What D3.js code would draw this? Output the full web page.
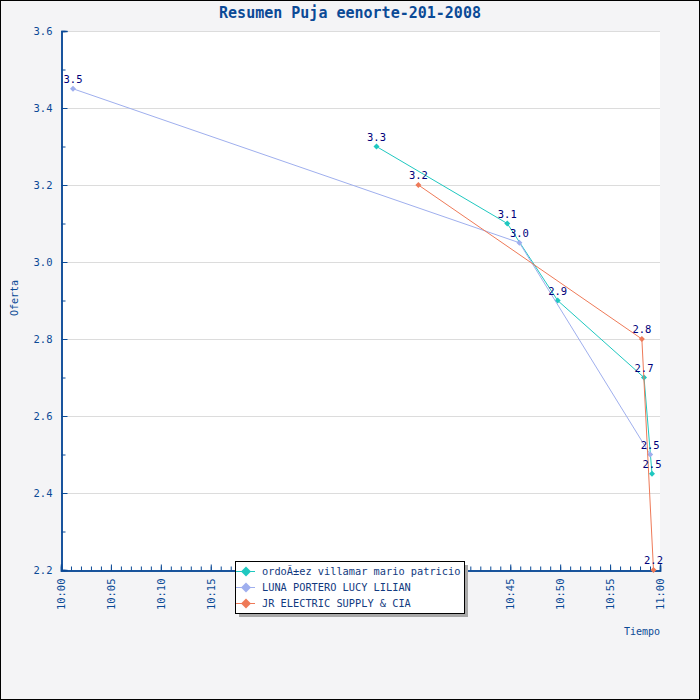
<!DOCTYPE html>
<html>
<head>
<meta charset="utf-8">
<script src="https://cdn.jsdelivr.net/npm/d3@7"></script>
<style>
  body { margin: 0; background: #fff; }
  svg text { font-family: "DejaVu Sans Mono", monospace; }
</style>
</head>
<body>
<svg id="chart" width="700" height="700"></svg>
<script>
// series
const seriesNames = ["ordoÃ±ez villamar mario patricio", "LUNA PORTERO LUCY LILIAN", "JR ELECTRIC SUPPLY & CIA"];
const seriesColors = ["#1fc8c0", "#9fafee", "#ee7a58"];
const tealTimes = ["10:31:36", "10:44:42", "10:49:45", "10:58:24", "10:59:12"];
const tealValues = [3.30, 3.10, 2.90, 2.70, 2.45];
const lunaTimes = ["10:01:12", "10:45:55", "10:59:01"];
const lunaValues = [3.45, 3.05, 2.50];
const jrTimes = ["10:35:48", "10:58:11", "10:59:21"];
const jrValues = [3.20, 2.80, 2.20];
const yTicks = [2.2, 2.4, 2.6, 2.8, 3.0, 3.2, 3.4, 3.6];

const parse = d3.timeParse("%H:%M:%S");
const series = [
  [tealTimes, tealValues],
  [lunaTimes, lunaValues],
  [jrTimes, jrValues]
].map(([t, v], i) => ({
  name: seriesNames[i],
  color: seriesColors[i],
  points: t.map((s, j) => ({ t: parse(s), v: v[j] }))
}));

const svg = d3.select("#chart");
const W = 700, H = 700;
const pLeft = 61, pRight = 660, pTop = 31, pBottom = 570;
const axisColor = "#0b4a96";

svg.append("rect").attr("x", 0.5).attr("y", 0.5).attr("width", W - 1).attr("height", H - 1)
  .attr("fill", "#f4f4f6").attr("stroke", "#000");
svg.append("rect").attr("x", pLeft).attr("y", pTop).attr("width", pRight - pLeft).attr("height", pBottom - pTop)
  .attr("fill", "#fff");

const x = d3.scaleTime().domain([parse("10:00:00"), parse("11:00:00")]).range([pLeft, pRight]);
const y = d3.scaleLinear().domain([2.2, 3.6]).range([pBottom, pTop]);

// grid
svg.append("g").selectAll("line").data(yTicks.slice(1)).join("line")
  .attr("x1", pLeft).attr("x2", pRight)
  .attr("y1", d => Math.round(y(d)) + 0.5).attr("y2", d => Math.round(y(d)) + 0.5)
  .attr("stroke", "#dcdcdc");

// y axis
const yAxis = svg.append("g").attr("transform", `translate(${pLeft + 0.5},0)`)
  .call(d3.axisLeft(y).tickValues(yTicks).tickFormat(d3.format(".1f")).tickSize(-6).tickPadding(12));
const yMinor = svg.append("g").attr("transform", `translate(${pLeft + 0.5},0)`)
  .call(d3.axisLeft(y).tickValues(d3.range(2.3, 3.6, 0.2)).tickFormat("").tickSize(-4));

// x axis
const xAxis = svg.append("g").attr("transform", `translate(0,${pBottom + 0.5})`)
  .call(d3.axisBottom(x).ticks(d3.timeMinute.every(5)).tickFormat(d3.timeFormat("%H:%M")).tickSize(-6).tickPadding(4));
const xMinor = svg.append("g").attr("transform", `translate(0,${pBottom + 0.5})`)
  .call(d3.axisBottom(x).ticks(d3.timeMinute.every(1)).tickFormat("").tickSize(-4));

[yAxis, yMinor, xAxis, xMinor].forEach(g => {
  g.select(".domain").attr("stroke", axisColor).attr("stroke-width", 1.5);
  g.selectAll(".tick line").attr("stroke", axisColor);
  g.selectAll("text").attr("fill", axisColor).attr("font-size", 10.5)
    .attr("font-family", "'DejaVu Sans Mono', monospace");
});
yAxis.selectAll(".tick text").attr("x", -9);
xAxis.selectAll(".tick text")
  .attr("transform", "rotate(-90)")
  .attr("text-anchor", "end")
  .attr("x", -8).attr("y", 0).attr("dy", "0.35em");

// titles
svg.append("text").attr("x", 350).attr("y", 18).attr("text-anchor", "middle")
  .attr("font-size", 15).attr("font-weight", "bold").attr("fill", axisColor)
  .text("Resumen Puja eenorte-201-2008");
svg.append("text").attr("transform", "translate(18,298) rotate(-90)").attr("text-anchor", "middle")
  .attr("font-size", 10).attr("fill", axisColor).text("Oferta");
svg.append("text").attr("x", 660).attr("y", 635).attr("text-anchor", "end")
  .attr("font-size", 10).attr("fill", axisColor).text("Tiempo");

// lines
const line = d3.line().x(d => x(d.t)).y(d => y(d.v));
const diamond = r => `M0,${-r}L${r},0L0,${r}L${-r},0Z`;

series.forEach(s => {
  const g = svg.append("g");
  g.append("path").datum(s.points).attr("d", line)
    .attr("fill", "none").attr("stroke", s.color).attr("stroke-width", 1);
  g.selectAll("path.pt").data(s.points).join("path").attr("class", "pt")
    .attr("d", diamond(3))
    .attr("transform", d => `translate(${x(d.t)},${y(d.v)})`)
    .attr("fill", s.color);
});

// value labels
series.forEach(s => {
  svg.append("g").selectAll("text").data(s.points).join("text")
    .attr("x", d => x(d.t)).attr("y", d => y(d.v) - 6)
    .attr("text-anchor", "middle").attr("font-size", 10.5).attr("fill", "#00007a")
    .text(d => d.v.toFixed(1));
});

// legend
const lg = svg.append("g").attr("transform", "translate(235,561)");
lg.append("rect").attr("x", 4).attr("y", 4).attr("width", 229).attr("height", 52).attr("fill", "#a8a8a8");
lg.append("rect").attr("x", 0.5).attr("y", 0.5).attr("width", 229).attr("height", 52)
  .attr("fill", "#fff").attr("stroke", "#000");
series.forEach((s, i) => {
  const row = lg.append("g").attr("transform", `translate(0,${10 + i * 16})`);
  row.append("line").attr("x1", 1).attr("x2", 20).attr("y1", 0.5).attr("y2", 0.5).attr("stroke", s.color);
  row.append("path").attr("d", diamond(5)).attr("transform", "translate(11,0.5)").attr("fill", s.color);
  row.append("text").attr("x", 27).attr("y", 0).attr("dy", "0.35em")
    .attr("font-size", 10.3).attr("fill", "#123a80").text(s.name);
});
</script>
</body>
</html>
